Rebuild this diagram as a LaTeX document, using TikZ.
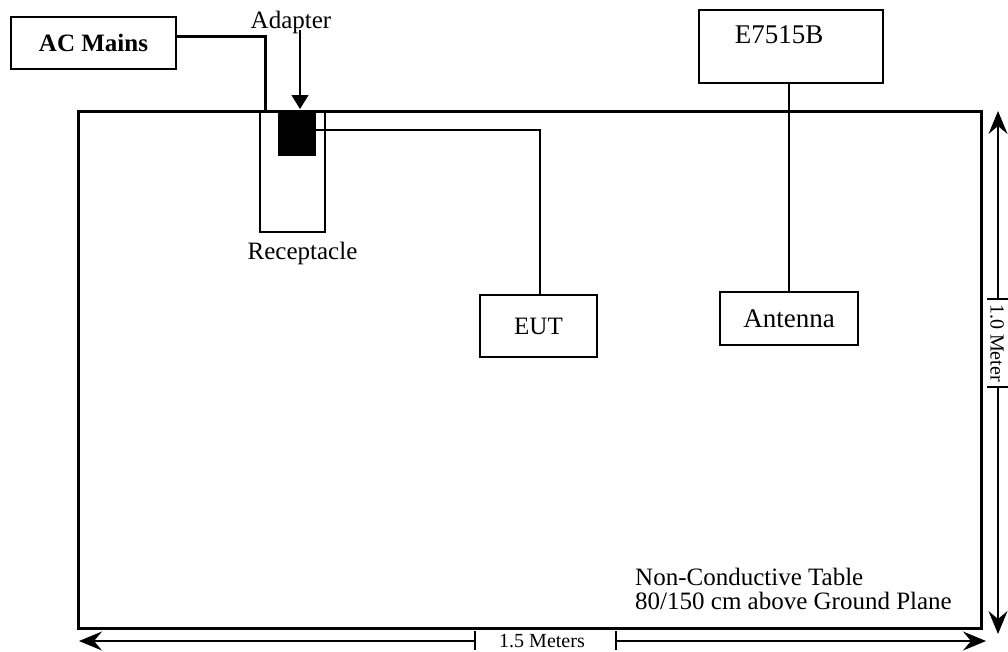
\documentclass[tikz,border=0pt]{standalone}
\usepackage{fontspec}
\setmainfont{Liberation Serif}
\usetikzlibrary{arrows.meta}
\begin{document}
\begin{tikzpicture}[x=1pt,y=-1pt,
  box/.style={draw,line width=1.3pt,inner sep=0pt},
  thin/.style={line width=1.3pt},
  cable/.style={line width=3pt},
  lbl/.style={inner sep=0pt,font=\fontsize{25}{30}\selectfont},
  dimtip/.style={-{Stealth[length=23pt,width=19pt,inset=8pt]}},
  dim/.style={line width=1.3pt}]
\useasboundingbox (0,0) rectangle (1008,651);
% table
\node[draw,line width=3pt,inner sep=0pt,minimum width=903pt,minimum height=517pt] (table) at (529.5,369.5) {};
% AC mains
\node[box,minimum width=165pt,minimum height=52pt,font=\bfseries\fontsize{25}{30}\selectfont] (ac) at (93.5,43) {AC Mains};
\coordinate (acout) at (176,36);
\coordinate (bend1) at (265,36);
\coordinate (cin) at (265,111);
\draw[cable] (acout) -- (bend1) -- (cin);
% receptacle and adapter
\node[box,minimum width=65pt,minimum height=120pt] (rec) at (292.5,172) {};
\node[draw,fill=black,inner sep=0pt,minimum width=37pt,minimum height=42pt] (adp) at (296.5,134) {};
\node[lbl,anchor=base] (adptxt) at (291,28) {Adapter};
\node[lbl,anchor=base] (rectxt) at (302.5,259) {Receptacle};
\coordinate (arrs) at (300,30);
\coordinate (arre) at (300,109);
\draw[thin,-{Triangle[length=14pt,width=17pt]}] (arrs) -- (arre);
% EUT
\node[box,minimum width=117pt,minimum height=62pt,lbl,draw] (eut) at (538.5,326) {EUT};
\coordinate (adpout) at (315,130);
\coordinate (bend2) at (540,130);
\draw[thin] (adpout) -- (bend2) -- (bend2 |- eut.north);
% E7515B
\node[box,minimum width=184pt,minimum height=73pt] (e75) at (791,46.5) {};
\node[inner sep=0pt,anchor=base,font=\fontsize{27}{32}\selectfont] (e75t) at (779,43) {E7515B};
% Antenna
\node[box,minimum width=138pt,minimum height=53pt,inner sep=0pt,font=\fontsize{27}{32}\selectfont] (ant) at (789,318.5) {Antenna};
\draw[thin] (e75.south -| ant.north) -- (ant.north);
% table text
\node[lbl,anchor=base west] (t1) at (635,585) {Non-Conductive Table};
\node[lbl,anchor=base west] (t2) at (635,609) {80/150 cm above Ground Plane};
% bottom dimension
\coordinate (bl) at (79,641);
\coordinate (br) at (986,641);
\coordinate (b1) at (475,641);
\coordinate (b2) at (616,641);
\node[inner sep=0pt,font=\fontsize{20}{24}\selectfont] (bt) at (542,641) {1.5 Meters};
\draw[dim,dimtip] (b1) -- (bl);
\draw[dim,dimtip] (b2) -- (br);
\draw[dim] ([yshift=-9pt]b1) -- ([yshift=10pt]b1);
\draw[dim] ([yshift=-9pt]b2) -- ([yshift=10pt]b2);
% right dimension
\coordinate (rt) at (998,111);
\coordinate (rb) at (998,634);
\coordinate (r1) at (998,299);
\coordinate (r2) at (998,387);
\node[inner sep=0pt,rotate=-90,font=\fontsize{20}{24}\selectfont] (rtxt) at (997,343) {1.0 Meter};
\draw[dim,dimtip] (r1) -- (rt);
\draw[dim,dimtip] (r2) -- (rb);
\draw[dim] ([xshift=-11pt]r1) -- ([xshift=10pt]r1);
\draw[dim] ([xshift=-11pt]r2) -- ([xshift=10pt]r2);
\end{tikzpicture}
\end{document}
